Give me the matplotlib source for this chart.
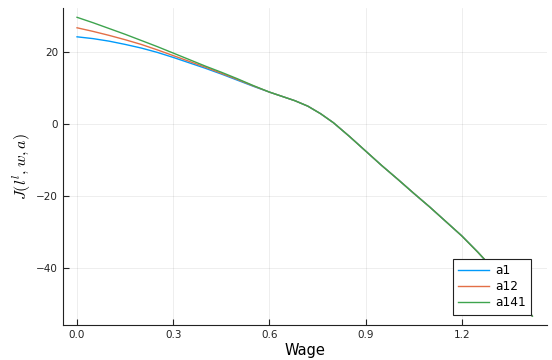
import matplotlib
matplotlib.use("Agg")
import matplotlib.pyplot as plt

# wage grid and value function for three ability levels
wage = [0.0, 0.05, 0.1, 0.15, 0.2, 0.25, 0.3, 0.35, 0.4, 0.45, 0.5, 0.55, 0.6,
        0.65, 0.68, 0.72, 0.76, 0.8, 0.85, 0.9, 0.95, 1.0, 1.05, 1.1, 1.15,
        1.2, 1.25, 1.3, 1.35, 1.42]

tail = [7.3, 6.4, 4.9, 2.8, 0.3, -3.5, -7.5, -11.5, -15.3, -19.2, -23.0,
        -27.0, -31.0, -35.5, -40.3, -45.5, -53.2]

a1 = [24.1, 23.6, 22.9, 22.0, 21.0, 19.8, 18.4, 16.9, 15.4, 13.8, 12.1, 10.4, 8.8] + tail
a12 = [26.6, 25.6, 24.5, 23.3, 22.0, 20.5, 18.9, 17.3, 15.7, 14.0, 12.3, 10.5, 8.8] + tail
a141 = [29.5, 28.0, 26.4, 24.8, 23.1, 21.4, 19.6, 17.8, 16.0, 14.3, 12.5, 10.6, 8.8] + tail

series = {"a1": a1, "a12": a12, "a141": a141}
colors = ["#009AFA", "#E36F47", "#3EA44E"]

xticks = [0.0, 0.3, 0.6, 0.9, 1.2]
yticks = [-40, -20, 0, 20]


def plot():
    plt.rcParams['mathtext.fontset'] = 'cm'
    fig = plt.figure(figsize=(5.52, 3.60), dpi=100)
    ax = fig.add_axes([0.114, 0.097, 0.877, 0.881])

    for (name, vals), c in zip(series.items(), colors):
        ax.plot(wage, vals, color=c, linewidth=1.0, label=name)

    ax.set_xlim(-0.044, 1.466)
    ax.set_ylim(-55.7, 32.1)
    ax.set_xticks(xticks)
    ax.set_xticklabels([f"{t:.1f}" for t in xticks])
    ax.set_yticks(yticks)
    ax.grid(True, color="black", alpha=0.08, linewidth=0.6)
    ax.tick_params(direction="in", length=4, width=0.8, labelsize=7.5, colors="#222222")
    for s in ["top", "right"]:
        ax.spines[s].set_visible(False)
    for s in ["left", "bottom"]:
        ax.spines[s].set_linewidth(0.8)
        ax.spines[s].set_color("#222222")

    ax.set_xlabel("Wage", fontsize=10.5, labelpad=2)
    ax.set_ylabel(r"$J(l^l, w, a)$", fontsize=11.5, labelpad=2)

    leg = ax.legend(loc="lower right", bbox_to_anchor=(0.967, 0.032), fontsize=8.7,
                    fancybox=False, edgecolor="#222222", framealpha=1.0,
                    borderaxespad=0, handlelength=2.6, handletextpad=0.45,
                    borderpad=0.45, labelspacing=0.25)
    leg.get_frame().set_linewidth(0.8)

    fig.savefig("out.png", dpi=100)


if __name__ == '__main__':
    plot()
